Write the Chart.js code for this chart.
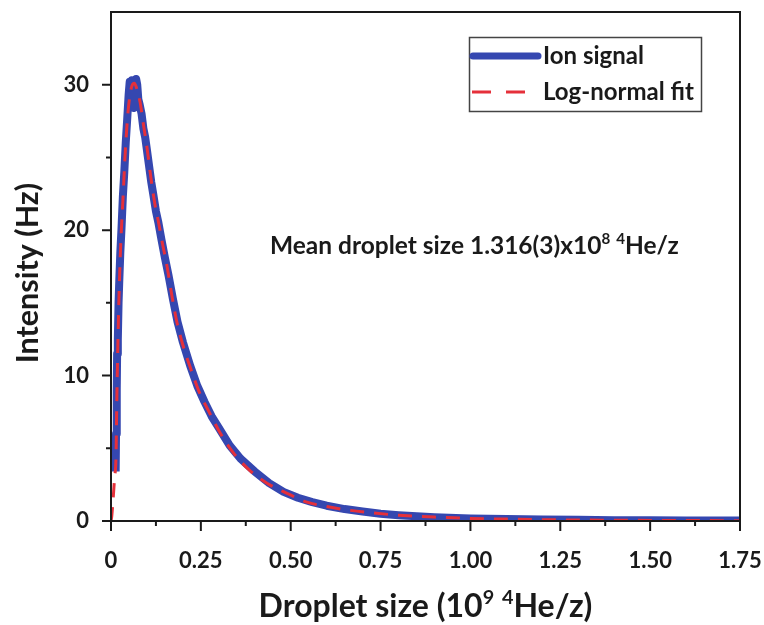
<!DOCTYPE html>
<html>
<head>
<meta charset="utf-8">
<script src="https://cdn.jsdelivr.net/npm/chart.js@4"></script>
<style>
  html, body { margin: 0; padding: 0; background: #fff; }
  #wrap { width: 764px; height: 625px; }
</style>
</head>
<body>
<div id="wrap"><canvas id="chart" width="764" height="625"></canvas></div>
<script>
// droplet size (10^9 4He/z) and intensity (Hz)
const ionX = [0.013, 0.014, 0.016, 0.017, 0.019, 0.021, 0.023, 0.026, 0.029, 0.033, 0.037, 0.041, 0.045, 0.049,
  0.052, 0.055, 0.058, 0.061, 0.064, 0.067, 0.070, 0.073, 0.076, 0.080, 0.085, 0.090, 0.095, 0.100, 0.106,
  0.112, 0.118, 0.125, 0.132, 0.140, 0.150, 0.160, 0.172, 0.185, 0.200, 0.220, 0.240, 0.260, 0.280, 0.300,
  0.330, 0.360, 0.400, 0.440, 0.480, 0.520, 0.560, 0.600, 0.650, 0.700, 0.750, 0.800, 0.850, 0.900, 1.000,
  1.100, 1.200, 1.300, 1.400, 1.500, 1.600, 1.750];
const ionY = [3.4, 6, 9, 11.5, 12.5, 15, 16.5, 18.5, 20, 22.3, 24, 26, 27.6, 29.3,
  30.2, 29.6, 30.3, 29.0, 28.4, 29.5, 30.4, 30.0, 29.0, 28.6, 28.0, 27.0, 26.4, 25.5, 24.4,
  23.3, 22.4, 21.3, 20.5, 19.4, 18.1, 16.9, 15.3, 13.7, 12.3, 10.7, 9.3, 8.2, 7.2, 6.4,
  5.2, 4.3, 3.4, 2.6, 2.0, 1.6, 1.3, 1.05, 0.82, 0.65, 0.5, 0.4, 0.32, 0.26, 0.18,
  0.13, 0.1, 0.08, 0.06, 0.05, 0.04, 0.03];

const fitX = [0, 0.002, 0.005, 0.010, 0.014, 0.016, 0.019, 0.022, 0.027, 0.033, 0.040, 0.048, 0.058, 0.065,
  0.072, 0.081, 0.090, 0.100, 0.111, 0.122, 0.131, 0.143, 0.156, 0.170, 0.184, 0.200, 0.220, 0.245, 0.275,
  0.305, 0.340, 0.385, 0.434, 0.490, 0.545, 0.600, 0.657, 0.730, 0.800, 0.900, 1.000, 1.125, 1.250, 1.500, 1.750];
const fitY = [0, 0.3, 1.2, 3, 4.5, 8, 12, 15.2, 19, 22, 25.5, 28.3, 29.9, 30.1,
  29.7, 28.8, 27.3, 25.7, 23.6, 21.8, 20.7, 19.1, 17.5, 15.4, 13.6, 12.1, 10.6, 8.9, 7.4,
  6.0, 4.7, 3.5, 2.6, 1.9, 1.3, 1.0, 0.76, 0.55, 0.4, 0.27, 0.18, 0.12, 0.08, 0.04, 0.02];

const xTicks = [0, 0.25, 0.5, 0.75, 1.0, 1.25, 1.5, 1.75];
const xMinor = [0.125, 0.375, 0.625, 0.875, 1.125, 1.375, 1.625];
const yTicks = [0, 10, 20, 30];
const yMinor = [5, 15, 25];

const FONT = 'Lato';
const ink = '#1a1a1a';
const blue = '#3547b0';
const red = '#e5303a';

// draws text with small raised parts, e.g. superscripts
function richText(ctx, parts, x, y, size, align) {
  ctx.save();
  ctx.textBaseline = 'alphabetic';
  ctx.textAlign = 'left';
  let total = 0;
  parts.forEach(p => {
    ctx.font = 'bold ' + (p.sup ? size * 0.62 : size) + 'px ' + FONT;
    total += ctx.measureText(p.t).width;
  });
  let cx = align === 'center' ? x - total / 2 : x;
  parts.forEach(p => {
    const s = p.sup ? size * 0.62 : size;
    ctx.font = 'bold ' + s + 'px ' + FONT;
    ctx.fillText(p.t, cx, p.sup ? y - size * 0.4 : y);
    cx += ctx.measureText(p.t).width;
  });
  ctx.restore();
}

const decor = {
  id: 'decor',
  afterDraw(chart) {
    const ctx = chart.ctx;
    const a = chart.chartArea;
    const xs = chart.scales.x, ys = chart.scales.y;
    ctx.save();
    ctx.strokeStyle = ink;
    ctx.fillStyle = ink;

    // frame
    ctx.lineWidth = 2;
    ctx.strokeRect(a.left, a.top, a.right - a.left, a.bottom - a.top);

    // tick marks, outward
    ctx.lineWidth = 2;
    ctx.beginPath();
    xTicks.forEach(v => { const px = xs.getPixelForValue(v); ctx.moveTo(px, a.bottom); ctx.lineTo(px, a.bottom + 10); });
    xMinor.forEach(v => { const px = xs.getPixelForValue(v); ctx.moveTo(px, a.bottom); ctx.lineTo(px, a.bottom + 5); });
    yTicks.forEach(v => { const py = ys.getPixelForValue(v); ctx.moveTo(a.left, py); ctx.lineTo(a.left - 9, py); });
    yMinor.forEach(v => { const py = ys.getPixelForValue(v); ctx.moveTo(a.left, py); ctx.lineTo(a.left - 5, py); });
    ctx.stroke();

    // axis titles
    richText(ctx, [{t: 'Droplet size (10'}, {t: '9', sup: true}, {t: ' '}, {t: '4', sup: true}, {t: 'He/z)'}],
      (a.left + a.right) / 2, 617, 32, 'center');
    ctx.save();
    ctx.translate(38, 273);
    ctx.rotate(-Math.PI / 2);
    richText(ctx, [{t: 'Intensity (Hz)'}], 0, 0, 30.5, 'center');
    ctx.restore();

    // note
    richText(ctx, [{t: 'Mean droplet size 1.316(3)x10'}, {t: '8', sup: true}, {t: ' '}, {t: '4', sup: true}, {t: 'He/z'}],
      270, 254, 24.5, 'left');

    // legend
    ctx.lineWidth = 1.5;
    ctx.strokeStyle = '#444';
    ctx.strokeRect(469.5, 37.5, 232, 74);
    ctx.lineCap = 'round';
    ctx.strokeStyle = blue;
    ctx.lineWidth = 7;
    ctx.beginPath(); ctx.moveTo(473, 56); ctx.lineTo(538, 56); ctx.stroke();
    ctx.lineCap = 'butt';
    ctx.strokeStyle = red;
    ctx.lineWidth = 3;
    ctx.setLineDash([19, 15]);
    ctx.beginPath(); ctx.moveTo(472, 92); ctx.lineTo(526, 92); ctx.stroke();
    ctx.setLineDash([]);
    richText(ctx, [{t: 'Ion signal'}], 543, 64, 24, 'left');
    richText(ctx, [{t: 'Log-normal fit'}], 543, 100, 24, 'left');
    ctx.restore();
  }
};

const ctx = document.getElementById('chart').getContext('2d');
new Chart(ctx, {
  type: 'line',
  data: {
    datasets: [{
      label: 'Ion signal',
      data: ionX.map((x, i) => ({x: x, y: ionY[i]})),
      borderColor: blue,
      borderWidth: 8,
      borderJoinStyle: 'round',
      pointRadius: 0,
      tension: 0,
      order: 2
    }, {
      label: 'Log-normal fit',
      data: fitX.map((x, i) => ({x: x, y: fitY[i]})),
      borderColor: red,
      borderWidth: 3,
      borderDash: [14, 10],
      pointRadius: 0,
      cubicInterpolationMode: 'monotone',
      order: 1
    }]
  },
  options: {
    responsive: false,
    devicePixelRatio: 1,
    animation: false,
    layout: { padding: { top: 12, right: 24, left: 0, bottom: 0 } },
    plugins: { legend: { display: false }, tooltip: { enabled: false } },
    scales: {
      x: {
        type: 'linear',
        min: 0,
        max: 1.75,
        grid: { display: false },
        border: { display: false },
        afterFit: s => { s.height = 104; s.paddingLeft = 0; s.paddingRight = 0; },
        afterBuildTicks: s => { s.ticks = xTicks.map(v => ({value: v})); },
        ticks: {
          padding: 19,
          color: ink,
          font: { family: FONT, size: 22, weight: 'bold' },
          maxRotation: 0,
          autoSkip: false,
          callback: v => v === 0 ? '0' : v.toFixed(2)
        }
      },
      y: {
        min: 0,
        max: 35,
        grid: { display: false },
        border: { display: false },
        afterFit: s => { s.width = 111; s.paddingTop = 0; s.paddingBottom = 0; },
        afterBuildTicks: s => { s.ticks = yTicks.map(v => ({value: v})); },
        ticks: {
          padding: 14,
          color: ink,
          font: { family: FONT, size: 22, weight: 'bold' }
        }
      }
    }
  },
  plugins: [decor]
});
</script>
</body>
</html>
